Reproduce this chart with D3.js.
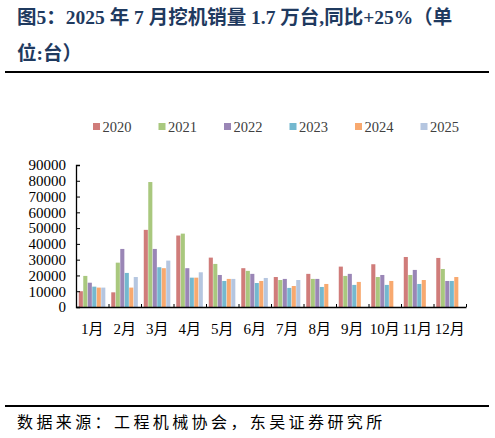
<!doctype html>
<html>
<head>
<meta charset="utf-8">
<title>2025年7月挖机销量</title>
<script src="https://d3js.org/d3.v7.min.js"></script>
<style>
  body { margin: 0; background: #fff; }
  svg text { font-family: "Liberation Serif", "Noto Sans CJK SC", serif; }
</style>
</head>
<body>
<svg id="chart" width="495" height="438"></svg>
<script>
// months and years
const months = ["1月","2月","3月","4月","5月","6月","7月","8月","9月","10月","11月","12月"];
const years = ["2020","2021","2022","2023","2024","2025"];

// monthly sales per year (units)
const s2020 = [10000, 9300, 48900, 45300, 31300, 24600, 19000, 21000, 25600, 27100, 31700, 31100];
const s2021 = [19700, 28100, 79200, 46500, 27300, 22900, 17100, 17800, 19700, 19000, 20300, 24100];
const s2022 = [15400, 36800, 36800, 24600, 20300, 21000, 17800, 17800, 21000, 20300, 23500, 16500];
const s2023 = [12900, 21600, 25200, 18600, 16500, 15200, 12100, 12700, 14000, 14000, 14600, 16500];
const s2024 = [12300, 12300, 24600, 18600, 17800, 16500, 13300, 14600, 15900, 16500, 17100, 19000];
const s2025 = [12300, 19000, 29400, 22000, 17800, 18400, 17100];

const yTicks = [0, 10000, 20000, 30000, 40000, 50000, 60000, 70000, 80000, 90000];
const colors = ["#d07c7a", "#a9c87e", "#9a86b6", "#74b8cf", "#f8a96f", "#b5c6e0"];

const series = [s2020, s2021, s2022, s2023, s2024, s2025];

const svg = d3.select("#chart");

// title
const title = svg.append("g").attr("fill", "#1f3a5f").attr("font-weight", "bold").attr("font-size", 19.5);
title.append("text").attr("x", 17).attr("y", 24)
  .text("图5：2025 年 7 月挖机销量 1.7 万台,同比+25%（单");
title.append("text").attr("x", 17).attr("y", 60).text("位:台）");

// rules above and below chart
svg.append("line").attr("x1", 5).attr("x2", 489).attr("y1", 72).attr("y2", 72)
  .attr("stroke", "#000").attr("stroke-width", 2);
svg.append("line").attr("x1", 5).attr("x2", 489).attr("y1", 406).attr("y2", 406)
  .attr("stroke", "#000").attr("stroke-width", 2);

// source
svg.append("text").attr("x", 17).attr("y", 428)
  .attr("font-size", 16).attr("fill", "#000")
  .attr("letter-spacing", 3.4)
  .style("font-family", "'Noto Sans CJK SC', sans-serif")
  .text("数据来源：工程机械协会，东吴证券研究所");

// plot area
const plotL = 76, plotR = 466, plotT = 165, plotB = 307;

const y = d3.scaleLinear().domain([0, 90000]).range([plotB, plotT]);
const x = d3.scaleBand().domain(months).range([plotL, plotR]).paddingInner(0.17).paddingOuter(0.085);
const xs = d3.scaleBand().domain(years).range([0, x.bandwidth()]);
const xEdge = d3.scaleLinear().domain([0, 12]).range([plotL, plotR]);

// bars
const groups = svg.append("g").selectAll("g")
  .data(series)
  .join("g")
    .attr("fill", (d, i) => colors[i]);

groups.selectAll("rect")
  .data((d, i) => d.map((v, m) => ({ v, m, yr: years[i] })))
  .join("rect")
    .attr("x", d => x(months[d.m]) + xs(d.yr))
    .attr("width", xs.bandwidth() - 0.4)
    .attr("y", d => y(d.v))
    .attr("height", d => plotB - y(d.v));

// y axis
const yAxis = svg.append("g")
  .attr("transform", `translate(${plotL},0)`)
  .call(d3.axisLeft(y).tickValues(yTicks).tickSize(-4).tickPadding(10).tickFormat(d3.format("d")));
yAxis.select(".domain").attr("stroke", "#000").attr("stroke-width", 1.3);
yAxis.selectAll(".tick line").attr("stroke", "#000");
yAxis.selectAll("text").attr("font-size", 15).attr("fill", "#000")
  .style("font-family", "'Liberation Serif', serif");

// x axis: ticks on group edges
const xAxis = svg.append("g")
  .attr("transform", `translate(0,${plotB})`)
  .call(d3.axisBottom(xEdge).tickValues(d3.range(13)).tickSize(-3).tickSizeOuter(0).tickFormat(""));
xAxis.select(".domain").attr("stroke", "#000").attr("stroke-width", 1.5);
xAxis.selectAll(".tick line").attr("stroke", "#000");

// month labels
svg.append("g").selectAll("text")
  .data(months)
  .join("text")
    .attr("x", d => x(d) + x.bandwidth() / 2)
    .attr("y", 334)
    .attr("text-anchor", "middle")
    .attr("font-size", 15)
    .attr("fill", "#000")
    .text(d => d);

// legend
const legend = svg.append("g").selectAll("g")
  .data(years)
  .join("g")
    .attr("transform", (d, i) => `translate(${93 + i * 65.5},127)`);
legend.append("rect").attr("x", 0).attr("y", -4).attr("width", 7).attr("height", 7)
  .attr("fill", (d, i) => colors[i]);
legend.append("text").attr("x", 9.5).attr("y", 5)
  .attr("font-size", 14.5).attr("fill", "#404040")
  .text(d => d);
</script>
</body>
</html>
